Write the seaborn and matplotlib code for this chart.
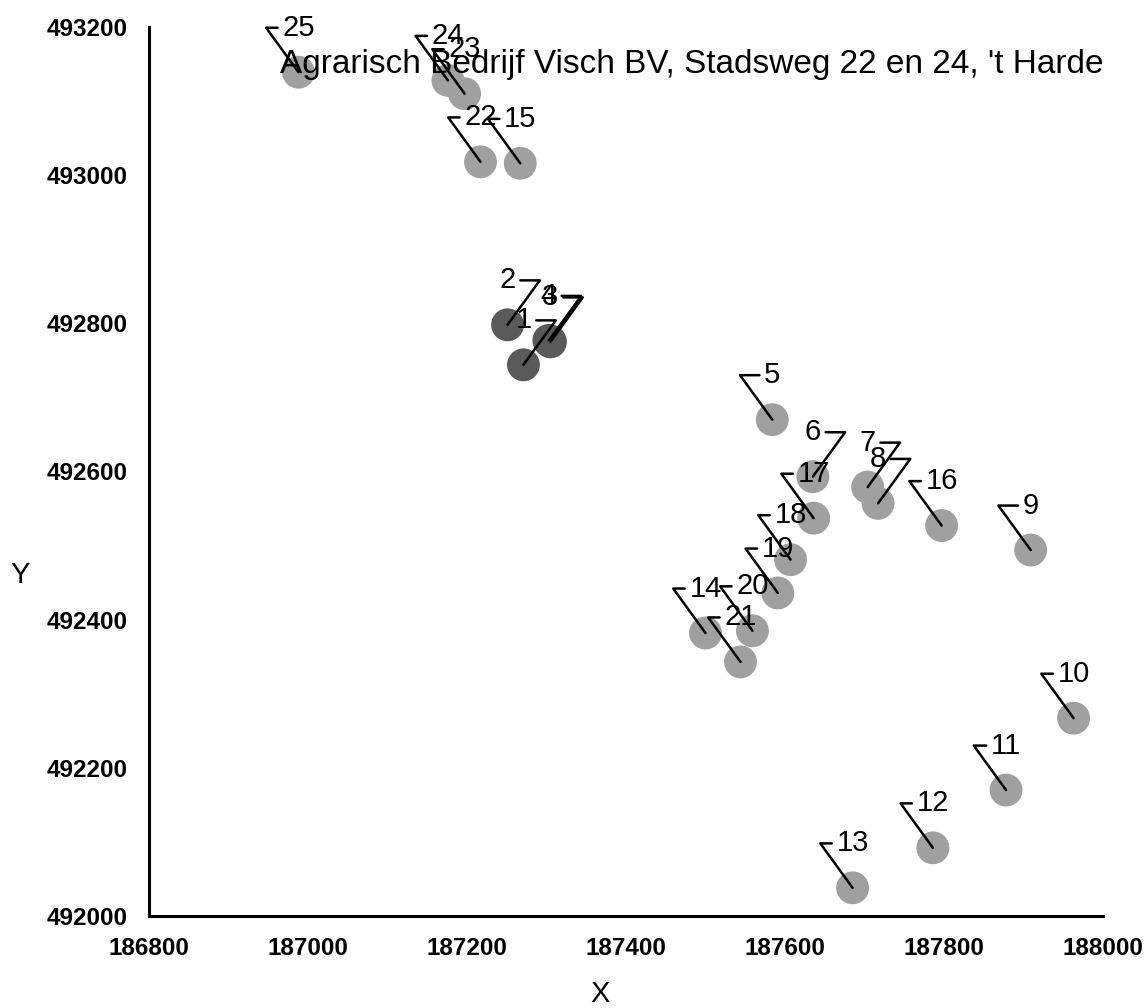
import pandas as pd
import seaborn as sns
import matplotlib.pyplot as plt

# locations (RD coordinates)
point_ids = [1, 2, 3, 4, 5, 6, 7, 8, 9, 10, 11, 12, 13,
             14, 15, 16, 17, 18, 19, 20, 21, 22, 23, 24, 25]
x_coords = [187271, 187251, 187305, 187303, 187584, 187635, 187704, 187717,
            187909, 187963, 187878, 187786, 187685, 187500, 187267, 187797,
            187636, 187607, 187591, 187559, 187544, 187217, 187197, 187176,
            186988]
y_coords = [492744, 492798, 492775, 492777, 492670, 492593, 492579, 492557,
            492494, 492267, 492170, 492092, 492038, 492382, 493016, 492527,
            492537, 492481, 492436, 492385, 492343, 493018, 493110, 493128,
            493139]
# first four are the farm's own buildings (dark), rest are surroundings
kind = ['own'] * 4 + ['other'] * 21
# label leader drawn on the right side for these ids
right_leader = [1, 2, 3, 4, 6, 7, 8]

title = "Agrarisch Bedrijf Visch BV, Stadsweg 22 en 24, 't Harde"
x_ticks = [186800, 187000, 187200, 187400, 187600, 187800, 188000]
y_ticks = [492000, 492200, 492400, 492600, 492800, 493000, 493200]

df = pd.DataFrame({'id': point_ids, 'X': x_coords, 'Y': y_coords, 'kind': kind})

sns.set_style('white')
plt.rcParams['font.family'] = ['Liberation Sans', 'DejaVu Sans']
plt.rcParams['text.color'] = 'black'
plt.rcParams['axes.labelcolor'] = 'black'

fig = plt.figure(figsize=(11.46, 10.08), dpi=100)
ax = fig.add_axes([0.130, 0.0913, 0.8325, 0.8819])

sns.scatterplot(data=df, x='X', y='Y', hue='kind',
                palette={'own': '#5a5a5a', 'other': '#a0a0a0'},
                s=560, linewidth=0, legend=False, ax=ax, zorder=2)

for pid, px, py in zip(point_ids, x_coords, y_coords):
    if pid in right_leader:
        rel, ang = (1, 0.5), 54
    else:
        rel, ang = (0, 0.5), 126
    ax.annotate(str(pid), xy=(px, py), xytext=(0, 32), textcoords='offset points',
                ha='center', va='center', fontsize=21, color='black', zorder=3,
                arrowprops=dict(arrowstyle='-', color='black', lw=1.8,
                                shrinkA=1, shrinkB=0, relpos=rel,
                                connectionstyle=f'angle,angleA=0,angleB={ang},rad=0'))

ax.text(1.0, 0.975, title, transform=ax.transAxes, ha='right', va='top',
        fontsize=24, color='black', zorder=4)

ax.set_xlim(186800, 188000)
ax.set_ylim(492000, 493200)
ax.set_xticks(x_ticks)
ax.set_yticks(y_ticks)
ax.tick_params(direction='inout', length=13, width=1.5, pad=9, colors='black')
for lab in ax.get_xticklabels() + ax.get_yticklabels():
    lab.set_fontweight('bold')
    lab.set_fontsize(17.5)

sns.despine(ax=ax)
for side in ['left', 'bottom']:
    ax.spines[side].set_linewidth(2.2)
    ax.spines[side].set_color('black')

ax.set_xlabel('X', fontsize=21)
ax.set_ylabel('Y', fontsize=21, rotation=0)
ax.xaxis.set_label_coords(0.473, -0.072)
ax.yaxis.set_label_coords(-0.135, 0.384)
ax.yaxis.label.set_va('center')

plt.grid(False)
plt.savefig('out.png', dpi=100)
